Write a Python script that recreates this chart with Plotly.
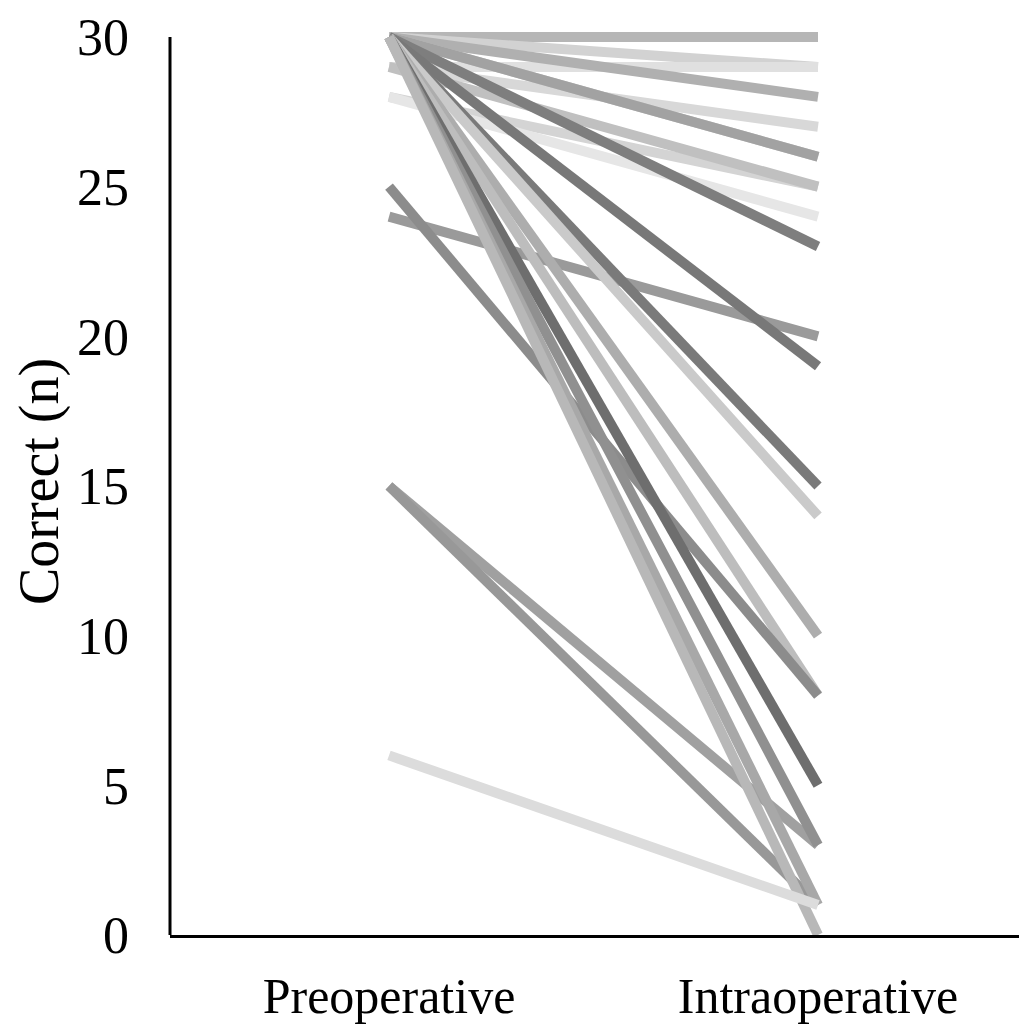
import plotly.graph_objects as go

categories = ["Preoperative", "Intraoperative"]
preop = [30, 30, 29, 30, 29, 30, 30, 28, 29, 28, 30, 24, 30, 30, 30, 30, 30, 25, 30, 15, 15, 30, 30, 30, 6]
intraop = [30, 29, 29, 28, 27, 26, 26, 25, 25, 24, 23, 20, 19, 15, 14, 10, 8, 8, 5, 3, 1, 3, 1, 0, 1]
colors = ["#b6b6b6", "#d2d2d2", "#e0e0e0", "#b0b0b0", "#d8d8d8", "#c8c8c8", "#a2a2a2",
          "#d4d4d4", "#c0c0c0", "#e6e6e6", "#7e7e7e", "#9a9a9a", "#787878", "#7a7a7a",
          "#cacaca", "#adadad", "#bdbdbd", "#8c8c8c", "#6e6e6e", "#a0a0a0", "#989898",
          "#909090", "#a8a8a8", "#b8b8b8", "#dcdcdc"]
yticks = [0, 5, 10, 15, 20, 25, 30]

fig = go.Figure()
for a, b, c in zip(preop, intraop, colors):
    fig.add_trace(go.Scatter(x=[0, 1], y=[a, b], mode="lines",
                             line=dict(color=c, width=10), showlegend=False,
                             hoverinfo="skip"))

font = dict(family="Liberation Serif, Times New Roman, serif", color="black")
fig.update_layout(
    width=1027, height=1025,
    margin=dict(l=162, r=0, t=20, b=98),
    paper_bgcolor="white", plot_bgcolor="white",
    font=dict(family="Liberation Serif, Times New Roman, serif", size=48, color="black"),
    xaxis=dict(range=[-0.5105, 1.5058], tickvals=[0, 1], ticktext=categories,
               showgrid=False, zeroline=False, showline=True, linecolor="black",
               linewidth=3, ticks="", ticklabelstandoff=15, automargin=False,
               tickfont=dict(size=50, **font)),
    yaxis=dict(range=[0, 30.3], tickvals=yticks, showgrid=False, zeroline=False,
               showline=False, ticks="", ticklabelstandoff=40, automargin=False,
               tickfont=dict(size=52, **font),
               title=dict(text="Correct (n)", font=dict(size=56, **font), standoff=12)),
    shapes=[dict(type="line", xref="paper", yref="y", x0=0, x1=0, y0=0, y1=30,
                 line=dict(color="black", width=3))],
)

fig.write_html("out.html")
